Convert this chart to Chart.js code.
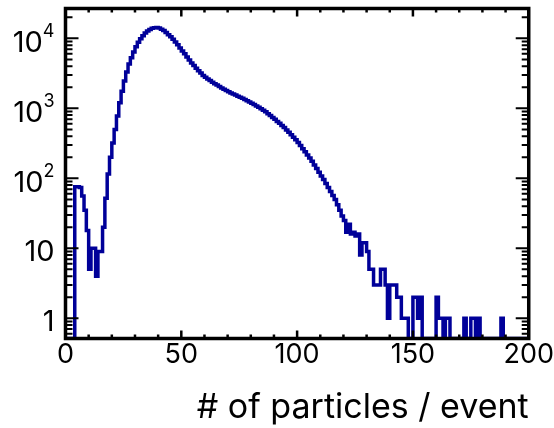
<!DOCTYPE html>
<html><head><meta charset="utf-8">
<script src="https://cdn.jsdelivr.net/npm/chart.js@4"></script>
<style>html,body{margin:0;padding:0;background:#fff}#wrap{width:554px;height:428px;position:relative}</style>
</head><body><div id="wrap"><canvas id="c"></canvas></div>
<script>
// Histogram: 200 bins of width 1 from 0 to 200, counts per bin
const X_MIN = 0, X_MAX = 200, BIN_WIDTH = 1;
const Y_MIN = 0.514, Y_MAX = 26700;
const xTickValues = [0, 50, 100, 150, 200];
const yMajorTicks = [1, 10, 100, 1000, 10000];
const yTickBase = ['1', '10', '10', '10', '10'];
const yTickExp = ['', '', '2', '3', '4'];
const xTitle = '# of particles / event';
const counts = [
  // 0-9
  0, 0, 0, 0, 0, 76, 76, 74, 56, 35,
  // 10-19
  18, 5, 10, 10, 4, 9, 9, 20, 52, 115,
  // 20-29
  200, 320, 500, 780, 1200, 1750, 2450, 3300, 4300, 5300,
  // 30-39
  6400, 7600, 8800, 9900, 10900, 11900, 12700, 13400, 13900, 14200,
  // 40-49
  14300, 14000, 13500, 12900, 12100, 11300, 10500, 9700, 8900, 8100,
  // 50-59
  7300, 6600, 6000, 5400, 4900, 4450, 4100, 3750, 3450, 3200,
  // 60-69
  2950, 2780, 2630, 2490, 2360, 2250, 2150, 2050, 1960, 1880,
  // 70-79
  1800, 1730, 1660, 1600, 1550, 1490, 1440, 1390, 1340, 1280,
  // 80-89
  1230, 1180, 1130, 1080, 1040, 990, 940, 890, 840, 790,
  // 90-99
  740, 700, 650, 610, 570, 530, 490, 455, 420, 385,
  // 100-109
  355, 325, 295, 265, 240, 215, 195, 175, 155, 138,
  // 110-119
  122, 108, 96, 84, 74, 65, 57, 50, 42, 35,
  // 120-129
  29, 25, 17, 22, 16, 17, 15, 16, 8, 12,
  // 130-139
  12, 9, 5, 5, 3, 3, 3, 5, 5, 3,
  // 140-149
  1, 3, 3, 3, 2, 2, 1, 1, 1, 0,
  // 150-159
  0, 2, 2, 1, 2, 0, 0, 0, 0, 0,
  // 160-169
  0, 2, 1, 1, 0, 1, 1, 0, 0, 0,
  // 170-179
  0, 0, 0, 1, 0, 0, 1, 1, 0, 1,
  // 180-189
  0, 0, 0, 0, 0, 0, 0, 0, 0, 1,
  // 190-199
  0, 0, 0, 0, 0, 0, 0, 0, 0, 0
];

const FONT = "Inter, 'Liberation Sans', Arial, sans-serif";
const LINE_COLOR = '#000099';

// step points: left edge of each bin, plus closing right edge
const stepPoints = counts.map((c, i) => ({ x: X_MIN + i * BIN_WIDTH, y: c > 0 ? c : Y_MIN }));
stepPoints.push({ x: X_MAX, y: counts[counts.length - 1] > 0 ? counts[counts.length - 1] : Y_MIN });

const framePlugin = {
  id: 'rootFrame',
  afterDatasetsDraw(chart) {
    const { ctx, chartArea: a, scales: { x, y } } = chart;
    ctx.save();
    ctx.strokeStyle = '#000';
    ctx.lineCap = 'butt';
    // x ticks (bottom and top), inward
    ctx.beginPath();
    for (let v = X_MIN; v <= X_MAX; v += 10) {
      const px = x.getPixelForValue(v);
      const len = (v % 50 === 0) ? 8 : 4;
      ctx.moveTo(px, a.bottom); ctx.lineTo(px, a.bottom - len);
      ctx.moveTo(px, a.top); ctx.lineTo(px, a.top + len);
    }
    ctx.lineWidth = 2.5;
    ctx.stroke();
    // y ticks (left and right), inward, log minor ticks
    ctx.beginPath();
    for (let d = 0.1; d <= 100000; d *= 10) {
      for (let m = 1; m <= 9; m++) {
        const v = Math.round(d * m * 1000) / 1000;
        if (v < y.min || v > y.max) continue;
        const py = y.getPixelForValue(v);
        const len = m === 1 ? 13 : 7;
        ctx.moveTo(a.left, py); ctx.lineTo(a.left + len, py);
        ctx.moveTo(a.right, py); ctx.lineTo(a.right - len, py);
      }
    }
    ctx.lineWidth = 2;
    ctx.stroke();
    // frame
    ctx.lineWidth = 3.5;
    ctx.strokeRect(a.left, a.top, a.right - a.left, a.bottom - a.top);
    // y labels
    ctx.fillStyle = '#000';
    ctx.textBaseline = 'alphabetic';
    yMajorTicks.forEach((v, i) => {
      const py = y.getPixelForValue(v);
      const base = yTickBase[i], ex = yTickExp[i];
      const right = a.left - 11;
      if (ex) {
        ctx.font = '18px ' + FONT;
        ctx.textAlign = 'right';
        const ew = ctx.measureText(ex).width;
        ctx.fillText(ex, right, py - 1);
        ctx.font = '29px ' + FONT;
        ctx.fillText(base, right - ew, py + 14);
      } else {
        ctx.font = '29px ' + FONT;
        ctx.textAlign = 'right';
        ctx.fillText(base, right, py + 13);
      }
    });
    ctx.restore();
  }
};

new Chart(document.getElementById('c'), {
  type: 'line',
  data: {
    datasets: [{
      data: stepPoints,
      stepped: 'after',
      borderColor: LINE_COLOR,
      borderWidth: 3.5,
      pointRadius: 0,
      fill: false,
      clip: 0
    }]
  },
  options: {
    responsive: true,
    maintainAspectRatio: false,
    animation: false,
    events: [],
    layout: { padding: { top: 8.5, right: 25, left: 0, bottom: 0 } },
    plugins: { legend: { display: false }, tooltip: { enabled: false } },
    scales: {
      x: {
        type: 'linear', min: X_MIN, max: X_MAX,
        afterBuildTicks: s => { s.ticks = xTickValues.map(v => ({ value: v })); },
        afterFit: s => { s.height = 89.5; },
        ticks: { color: '#000', font: { family: FONT, size: 27 }, padding: 0, maxRotation: 0, autoSkip: false },
        grid: { display: false, drawTicks: false },
        border: { display: false },
        title: { display: true, text: xTitle, align: 'end', color: '#000', font: { family: FONT, size: 34 }, padding: { top: 0, bottom: 0 } }
      },
      y: {
        type: 'logarithmic', min: Y_MIN, max: Y_MAX,
        afterFit: s => { s.width = 65.5; },
        ticks: { display: false },
        grid: { display: false, drawTicks: false },
        border: { display: false }
      }
    }
  },
  plugins: [framePlugin]
});
</script>
</body></html>
